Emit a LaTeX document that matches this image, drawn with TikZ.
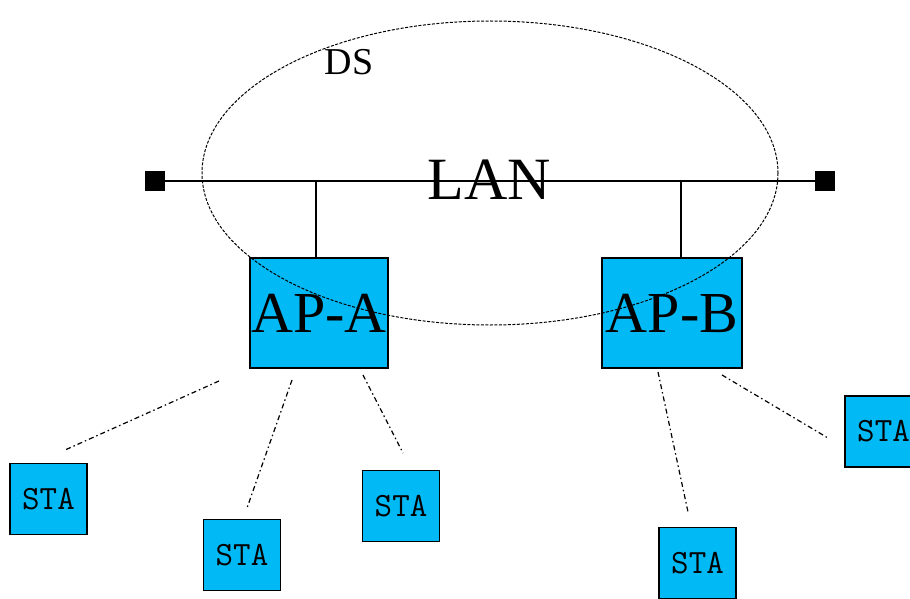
\documentclass[tikz,border=0pt]{standalone}
\usepackage{fontspec}
\setmainfont{Liberation Serif}
\usetikzlibrary{positioning}
\definecolor{apblue}{RGB}{0,185,245}

\begin{document}
\begin{tikzpicture}[x=1pt, y=-1pt,
            apbox/.style  = {rectangle, draw=black, line width=1.5pt, fill=apblue,
                             inner sep=0pt, minimum height=110pt,
                             font=\fontsize{58}{58}\selectfont},
            stabox/.style = {rectangle, draw=black, line width=1.5pt, fill=apblue,
                             inner sep=0pt, minimum width=77pt, minimum height=71pt,
                             font=\ttfamily\fontsize{34}{34}\selectfont},
            endsq/.style  = {rectangle, fill=black, minimum size=20pt, inner sep=0pt},
            radio/.style  = {line width=1.2pt, dash pattern=on 5pt off 3pt on 1.5pt off 3pt},
            dsline/.style = {line width=1pt, dash pattern=on 3pt off 1.5pt}
                                 ]
            \clip (0,0) rectangle (910,599);
            \node[endsq] (LANL) at (155,181) {};
            \node[endsq] (LANR) at (825,181) {};
            \draw [line width=1.5pt] (LANL) -- (LANR);
            \node (LAN) at (489,180) {\fontsize{60}{60}\selectfont LAN};
            \node (DS)  at (349,62)  {\fontsize{38}{38}\selectfont DS};
            %
            \node[apbox, minimum width=138pt] (APA) at (319,313) {AP-A};
            \node[apbox, minimum width=140pt] (APB) at (672,313) {AP-B};
            \coordinate (TAPA) at (316,181);
            \coordinate (TAPB) at (681,181);
            \draw [line width=1.2pt] (TAPA) -- (TAPA |- APA.north)
                                     (TAPB) -- (TAPB |- APB.north);
            %
            \draw [dsline] (490,173) ellipse [x radius=288, y radius=152];
            %
            \node[stabox] (STA1) at (48.5,499) {STA};
            \node[stabox] (STA2) at (242,555)  {STA};
            \node[stabox] (STA3) at (401,506)  {STA};
            \node[stabox] (STA4) at (697.5,563) {STA};
            \node[stabox] (STA5) at (883.5,431.5) {STA};
            %
            \coordinate (A1) at (219,381); \coordinate (S1) at (65,450);
            \coordinate (A2) at (292,380); \coordinate (S2) at (247,508);
            \coordinate (A3) at (363,375); \coordinate (S3) at (403,453);
            \coordinate (B4) at (658,372); \coordinate (S4) at (688,512);
            \coordinate (B5) at (722,375); \coordinate (S5) at (828,438);
            \draw [radio] (A1) -- (S1)
                          (A2) -- (S2)
                          (A3) -- (S3)
                          (B4) -- (S4)
                          (B5) -- (S5);
\end{tikzpicture}
\end{document}
